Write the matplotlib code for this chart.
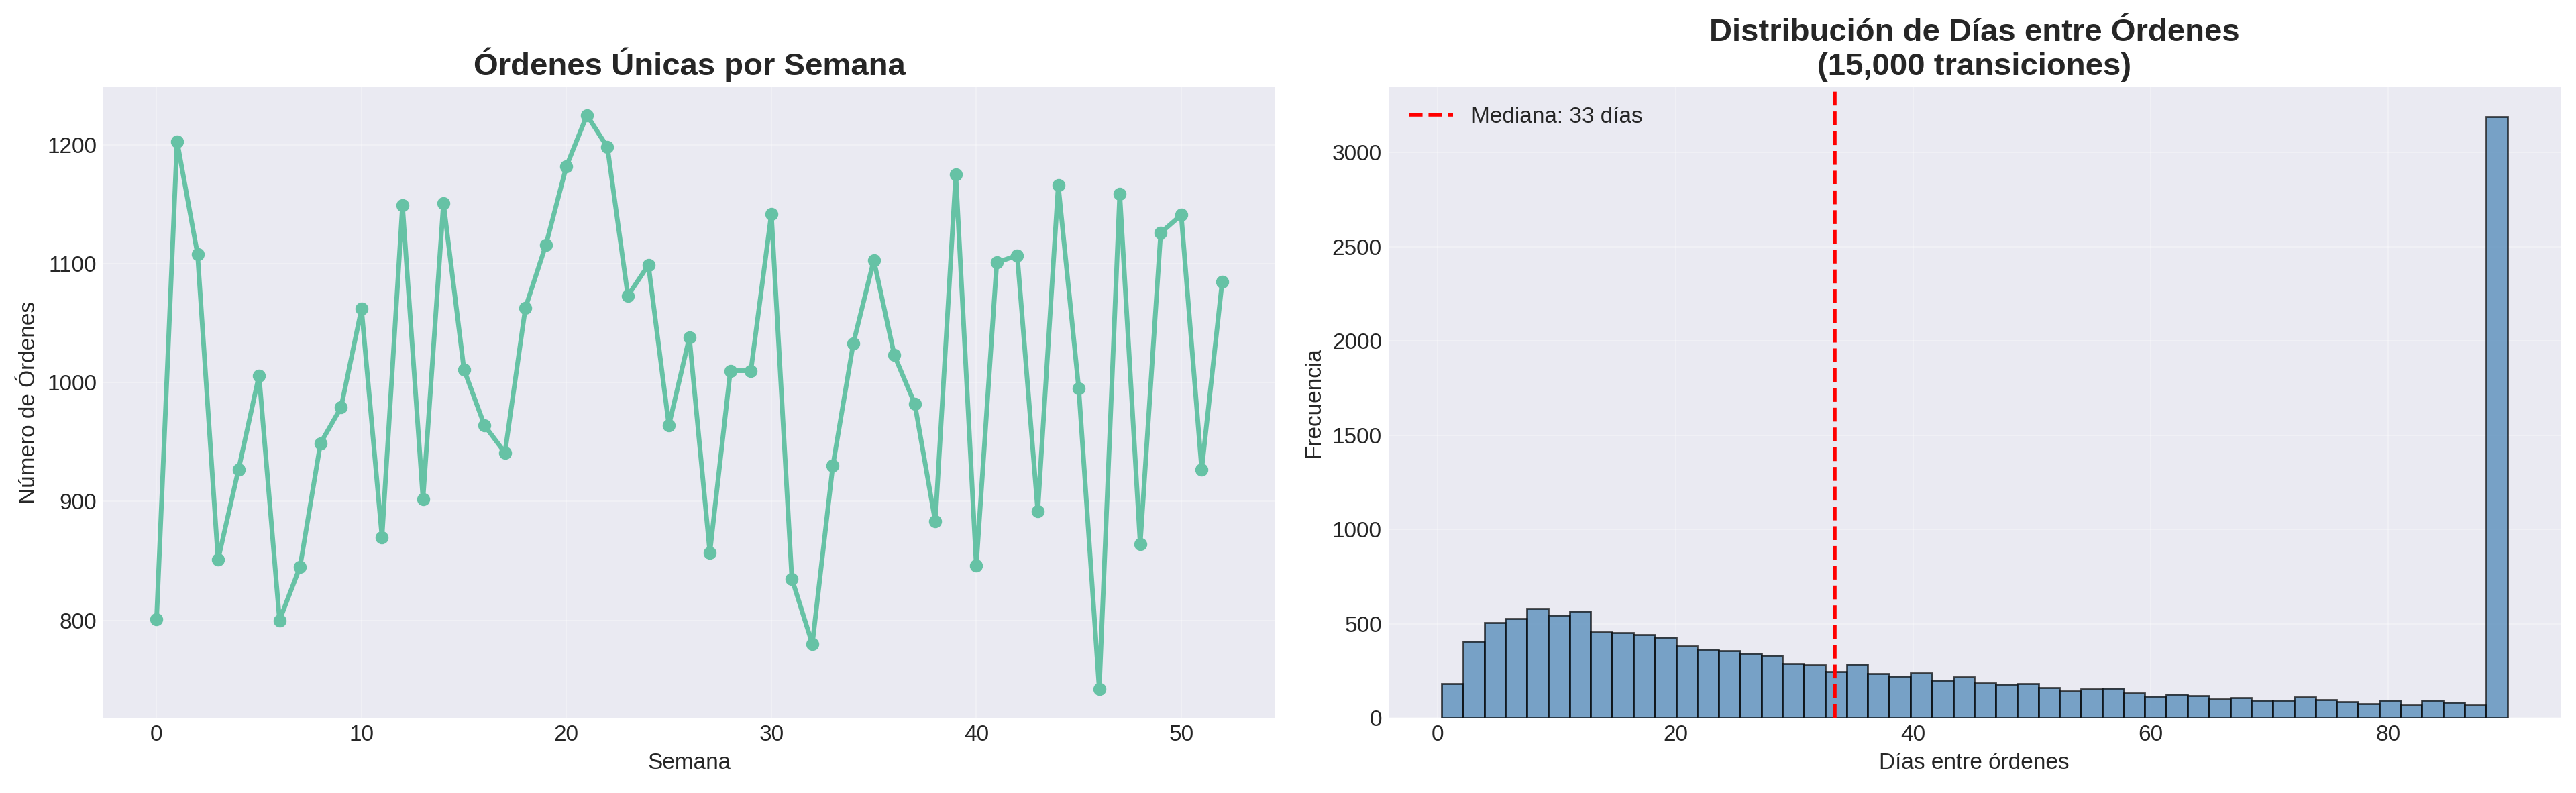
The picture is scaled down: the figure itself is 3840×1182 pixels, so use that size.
import numpy as np
import matplotlib
matplotlib.use('Agg')
import matplotlib.pyplot as plt

# ordenes unicas por semana
semanas = list(range(53))
ordenes = [801, 1203, 1108, 851, 927, 1006, 800, 845, 949, 979,
           1062, 870, 1149, 902, 1151, 1011, 964, 941, 1063, 1116,
           1182, 1225, 1198, 1073, 1099, 964, 1038, 857, 1010, 1010,
           1142, 835, 780, 930, 1033, 1103, 1023, 982, 883, 1175,
           846, 1101, 1107, 892, 1166, 995, 742, 1159, 864, 1126,
           1141, 927, 1085]

# histograma de dias entre ordenes (50 bins)
dias_min = 0.32
dias_max = 90.0
frecuencias = [180, 407, 507, 527, 582, 544, 565, 454, 453, 440,
               426, 381, 362, 356, 342, 331, 289, 280, 244, 285,
               236, 221, 238, 200, 217, 184, 178, 180, 160, 144,
               155, 157, 132, 113, 126, 117, 101, 108, 92, 92,
               112, 98, 85, 76, 92, 68, 94, 83, 68, 3190]
mediana = 33.4
n_transiciones = 15000

plt.style.use('seaborn-v0_8-darkgrid')
plt.rcParams['font.family'] = ['Liberation Sans', 'DejaVu Sans']

fig, (ax1, ax2) = plt.subplots(1, 2, figsize=(19.2, 5.91), dpi=200)
fig.subplots_adjust(left=0.0401, right=0.994, bottom=0.0947, top=0.891, wspace=0.0963)

ax1.plot(semanas, ordenes, marker='o', linewidth=2.5, markersize=6, color='#66c2a5')
ax1.set_title('Órdenes Únicas por Semana', fontsize=17, fontweight='bold')
ax1.set_xlabel('Semana', fontsize=12)
ax1.set_ylabel('Número de Órdenes', fontsize=12)
ax1.tick_params(labelsize=12)
ax1.grid(True, alpha=0.3)

edges = np.linspace(dias_min, dias_max, len(frecuencias) + 1)
centros = (edges[:-1] + edges[1:]) / 2
ax2.hist(centros, bins=edges, weights=frecuencias, color='steelblue', alpha=0.7, edgecolor='black')
ax2.axvline(mediana, color='red', linestyle='--', linewidth=2, label=f'Mediana: {mediana:.0f} días')
ax2.set_title(f'Distribución de Días entre Órdenes\n({n_transiciones:,} transiciones)', fontsize=17, fontweight='bold')
ax2.set_xlabel('Días entre órdenes', fontsize=12)
ax2.set_ylabel('Frecuencia', fontsize=12)
ax2.tick_params(labelsize=12)
ax2.legend(fontsize=12, loc='upper left')
ax2.grid(True, alpha=0.3)

fig.savefig('out.png', dpi=200)
